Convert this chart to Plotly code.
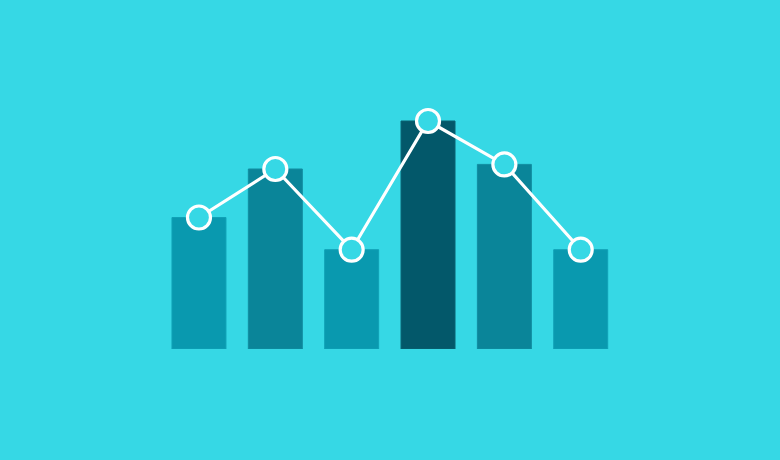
import plotly.graph_objects as go

# six bars with a line through their tops
cats = [0, 1, 2, 3, 4, 5]
bar_vals = [131.5, 180, 99.3, 228, 184.6, 99.3]
line_vals = [131.5, 180, 99.3, 228, 184.6, 99.3]
bar_colors = ["#0999AF", "#0A8599", "#0999AF", "#03586A", "#0A8599", "#0999AF"]
edge_colors = ["#10A1B6", "#118DA1", "#10A1B6", "#0A6273", "#118DA1", "#10A1B6"]

bg = "#36D8E5"

fig = go.Figure()
fig.add_bar(x=cats, y=bar_vals,
            marker=dict(color=bar_colors, line=dict(color=edge_colors, width=1)))
fig.add_scatter(x=cats, y=line_vals, mode="lines+markers",
                line=dict(color="white", width=3.2),
                marker=dict(size=23, color=bg, line=dict(color="white", width=3.2)))

fig.update_layout(
    width=780, height=460,
    paper_bgcolor=bg, plot_bgcolor=bg,
    margin=dict(l=0, r=0, t=0, b=111),
    showlegend=False, bargap=0.293,
    xaxis=dict(range=[-2.606, 7.61], visible=False, fixedrange=True),
    yaxis=dict(range=[0, 349], visible=False, fixedrange=True),
)

# drop the default page margin so the figure fills the window
fix_page = ("document.body.style.margin='0';"
            "document.body.style.overflow='hidden';"
            "document.body.style.background='" + bg + "';")

fig.write_html("out.html", config={"displayModeBar": False}, post_script=fix_page)
